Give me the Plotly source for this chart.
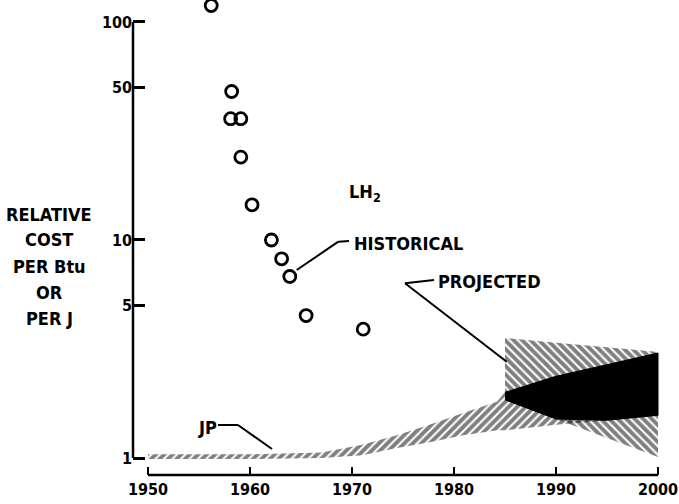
import math
import numpy as np
import plotly.graph_objects as go

# ---------------- data ----------------
HIST_YEARS = [1956.2, 1958.2, 1958.1, 1959.1, 1959.1, 1960.2, 1962.1, 1963.1, 1963.9, 1965.5, 1971.1]
HIST_COST = [119, 48, 36, 36, 24, 14.5, 10.0, 8.2, 6.8, 4.5, 3.9]

JP_YEARS = [1950, 1960, 1967, 1971, 1974.4, 1977.6, 1980.9, 1984.2, 1985, 1990, 1995, 2000]
JP_HIGH = [1.04, 1.04, 1.06, 1.15, 1.27, 1.42, 1.61, 1.81, 2.0, 2.37, 2.68, 3.03]
JP_LOW = [0.99, 0.99, 1.00, 1.03, 1.11, 1.18, 1.27, 1.34, 1.34, 1.42, 1.49, 1.57]

LH2_PROJ_YEARS = [1985, 1990, 1995, 2000]
LH2_PROJ_HIGH = [3.55, 3.38, 3.22, 3.06]
LH2_PROJ_LOW = [1.85, 1.51, 1.235, 1.01]

X_TICKS = [1950, 1960, 1970, 1980, 1990, 2000]
Y_TICKS = [1, 5, 10, 50, 100]
Y_TICK_TEXT = ["1", "5", "10", "50", "100"]

X_RANGE = [1948.53, 2000.98]
Y_RANGE = [-0.078, 2.0917]  # log10 units

# ---------------- layout geometry ----------------
W, H = 679, 504
L, R, T, B = 133, 668, 2, 475


def px_x(p):
    return (p - L) / (R - L)


def px_y(p):
    return (B - p) / (B - T)


def xpaper(v):
    return (v - X_RANGE[0]) / (X_RANGE[1] - X_RANGE[0])


def ypaper(v):
    return (math.log10(v) - Y_RANGE[0]) / (Y_RANGE[1] - Y_RANGE[0])


LABEL_FONT = dict(family="DejaVu Sans Condensed", size=18, color="black", weight="bold")
TICK_FONT = dict(family="DejaVu Sans Condensed", size=16, color="black", weight="bold")

fig = go.Figure()


def band(xs, hi, lo):
    return list(xs) + list(xs)[::-1], list(hi) + list(lo)[::-1]


# LH2 projected band (backslash hatch)
bx, by = band(LH2_PROJ_YEARS, LH2_PROJ_HIGH, LH2_PROJ_LOW)
fig.add_trace(go.Scatter(
    x=bx, y=by, mode="none", fill="toself", fillcolor="rgba(0,0,0,0)",
    fillpattern=dict(shape="\\", fgcolor="black", bgcolor="rgba(0,0,0,0)", size=6, solidity=0.65),
    hoverinfo="skip"))

# JP band (forward slash hatch)
bx, by = band(JP_YEARS, JP_HIGH, JP_LOW)
fig.add_trace(go.Scatter(
    x=bx, y=by, mode="none", fill="toself", fillcolor="rgba(0,0,0,0)",
    fillpattern=dict(shape="/", fgcolor="black", bgcolor="rgba(0,0,0,0)", size=6, solidity=0.65),
    hoverinfo="skip"))

# Overlap of the two projected bands (dense cross hatch -> solid black)
jp_idx = [JP_YEARS.index(y) for y in LH2_PROJ_YEARS]
ov_hi = np.minimum([JP_HIGH[i] for i in jp_idx], LH2_PROJ_HIGH)
ov_lo = np.maximum([JP_LOW[i] for i in jp_idx], LH2_PROJ_LOW)
bx, by = band(LH2_PROJ_YEARS, ov_hi, ov_lo)
fig.add_trace(go.Scatter(
    x=bx, y=by, mode="lines", fill="toself", fillcolor="black",
    line=dict(color="black", width=1), hoverinfo="skip"))

# Historical LH2 points
fig.add_trace(go.Scatter(
    x=HIST_YEARS, y=HIST_COST, mode="markers", cliponaxis=False,
    marker=dict(symbol="circle-open", size=12, color="black", line=dict(width=2.8, color="black")),
    hoverinfo="skip"))

# ---------------- annotations ----------------
ann = []
left_lines = [("RELATIVE", 214.5), ("COST", 240), ("PER Btu", 266.5), ("OR", 292.5), ("PER J", 318)]
for txt, yc in left_lines:
    ann.append(dict(text=txt, x=px_x(49), y=px_y(yc), xref="paper", yref="paper",
                    xanchor="center", yanchor="middle", showarrow=False, font=LABEL_FONT))

ann.append(dict(text="LH<sub>2</sub>", x=px_x(347), y=px_y(193), xref="paper", yref="paper",
                xanchor="left", yanchor="middle", showarrow=False, font=LABEL_FONT))
ann.append(dict(text="HISTORICAL", x=px_x(352), y=px_y(243), xref="paper", yref="paper",
                xanchor="left", yanchor="middle", showarrow=False, font=LABEL_FONT))
ann.append(dict(text="PROJECTED", x=px_x(436), y=px_y(281.5), xref="paper", yref="paper",
                xanchor="left", yanchor="middle", showarrow=False, font=LABEL_FONT))
ann.append(dict(text="JP", x=px_x(196), y=px_y(427.5), xref="paper", yref="paper",
                xanchor="left", yanchor="middle", showarrow=False, font=LABEL_FONT))

shapes = []
# axis lines: y axis spans 1..100, x axis spans 1950..2000
shapes.append(dict(type="line", xref="paper", yref="paper",
                   x0=0, x1=0, y0=ypaper(Y_TICKS[0]), y1=ypaper(Y_TICKS[-1]),
                   line=dict(color="black", width=2.5)))
shapes.append(dict(type="line", xref="paper", yref="paper",
                   x0=xpaper(X_TICKS[0]), x1=xpaper(X_TICKS[-1]), y0=0, y1=0,
                   line=dict(color="black", width=2.5)))

# leader lines
leaders = [
    [(296.7, 270), (338.3, 241.7), (349, 241)],
    [(434, 280), (405, 283.3), (506.7, 361.7)],
    [(218, 425), (238, 425), (272, 449)],
]
for pts in leaders:
    for (x0, y0), (x1, y1) in zip(pts[:-1], pts[1:]):
        shapes.append(dict(type="line", xref="paper", yref="paper",
                           x0=px_x(x0), y0=px_y(y0), x1=px_x(x1), y1=px_y(y1),
                           line=dict(color="black", width=2)))

fig.update_layout(
    width=W, height=H,
    margin=dict(l=L, r=W - R, t=T, b=H - B, pad=0),
    paper_bgcolor="white", plot_bgcolor="white",
    showlegend=False, hovermode=False,
    annotations=ann, shapes=shapes,
    xaxis=dict(range=X_RANGE, tickvals=X_TICKS, ticktext=[str(v) for v in X_TICKS],
               ticks="inside", ticklen=8, tickwidth=2, tickcolor="black",
               showgrid=False, zeroline=False, showline=False,
               tickfont=TICK_FONT, ticklabelstandoff=3),
    yaxis=dict(type="log", range=Y_RANGE, tickvals=Y_TICKS, ticktext=Y_TICK_TEXT,
               ticks="inside", ticklen=12, tickwidth=2.5, tickcolor="black",
               showgrid=False, zeroline=False, showline=False,
               tickfont=TICK_FONT, ticklabelstandoff=0),
)

fig.write_html("out.html", config={"displayModeBar": False},
               post_script="document.body.style.margin='0';document.body.style.overflow='hidden';")
